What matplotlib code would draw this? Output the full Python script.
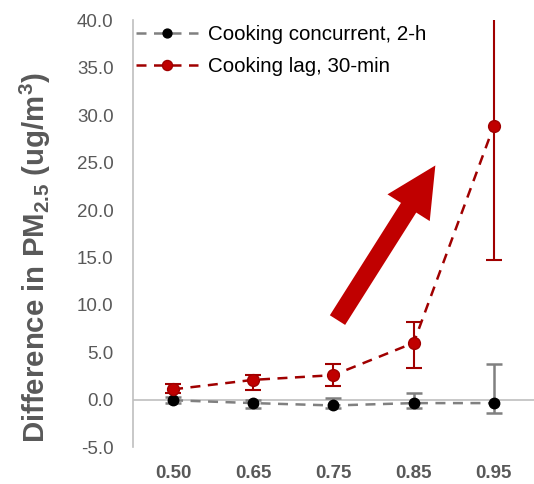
import matplotlib.pyplot as plt
import numpy as np

plt.rcParams["font.family"] = ["Liberation Sans", "DejaVu Sans"]
plt.rcParams["mathtext.fontset"] = "custom"
plt.rcParams["mathtext.rm"] = "Liberation Sans"
plt.rcParams["mathtext.bf"] = "Liberation Sans:bold"

thresholds = ["0.50", "0.65", "0.75", "0.85", "0.95"]

# cooking concurrent, 2-h window
conc_mean = [-0.05, -0.35, -0.6, -0.35, -0.35]
conc_lo = [0.3, 0.55, 0.3, 0.55, 1.05]
conc_hi = [0.3, 0.3, 0.8, 1.05, 4.15]

# cooking lag, 30-min window
lag_mean = [1.1, 2.1, 2.6, 6.0, 28.9]
lag_lo = [0.4, 1.1, 1.1, 2.7, 14.2]
lag_hi = [0.6, 0.5, 1.2, 2.2, 12.0]

x = np.arange(len(thresholds))
grey = "#595959"
red = "#C00000"

fig = plt.figure(figsize=(5.34, 4.84), dpi=100)
ax = fig.add_axes([0.249, 0.076, 0.751, 0.882])

ax.errorbar(x, conc_mean, yerr=[conc_lo, conc_hi], fmt="none", ecolor="#808080",
            elinewidth=1.8, capsize=6, capthick=1.8, zorder=2)
ax.plot(x, conc_mean, color="#808080", ls=(0, (4, 3)), lw=1.8, marker="o",
        ms=7.5, mfc="black", mec="black", label="Cooking concurrent, 2-h", zorder=3)

ax.errorbar(x, lag_mean, yerr=[lag_lo, lag_hi], fmt="none", ecolor="#A00000",
            elinewidth=1.5, capsize=6, capthick=1.5, zorder=2)
ax.plot(x, lag_mean, color="#A00000", ls=(0, (4, 3)), lw=1.8, marker="o",
        ms=8.5, mfc=red, mec="#A00000", label="Cooking lag, 30-min", zorder=3)

# trend arrow
ax.annotate("", xy=(3.27, 24.7), xytext=(2.05, 8.4),
            arrowprops=dict(arrowstyle="simple,head_length=1.8,head_width=1.8,tail_width=0.65",
                            mutation_scale=20, color=red, lw=0, shrinkA=0, shrinkB=0),
            zorder=4)

ax.set_xlim(-0.5, 4.5)
ax.set_ylim(-5, 40)
ax.set_yticks(np.arange(-5, 41, 5))
ax.set_yticklabels([f"{v:.1f}" for v in np.arange(-5, 41, 5)])
ax.set_xticks(x)
ax.set_xticklabels(thresholds, fontweight="bold")
ax.tick_params(axis="both", length=0, labelsize=13.5, labelcolor=grey)
ax.tick_params(axis="x", pad=13)
ax.tick_params(axis="y", pad=14)

for side in ["top", "right", "bottom"]:
    ax.spines[side].set_visible(False)
ax.spines["left"].set_color("#BFBFBF")
ax.spines["left"].set_linewidth(1.2)
ax.axhline(0, color="#BFBFBF", lw=1.2, zorder=1)

ax.set_ylabel(r"Difference in PM$_\mathbf{2.5}$ (ug/m$^\mathbf{3}$)", fontsize=21.2,
              fontweight="bold", color=grey)
ax.yaxis.set_label_coords(-0.2, 0.445)

ax.legend(loc="upper left", frameon=False, fontsize=14.8, handlelength=3.0,
          borderaxespad=0.0, bbox_to_anchor=(-0.012, 1.008), labelspacing=0.62,
          handletextpad=0.5, markerscale=0.85)

fig.savefig("out.png", dpi=100)
